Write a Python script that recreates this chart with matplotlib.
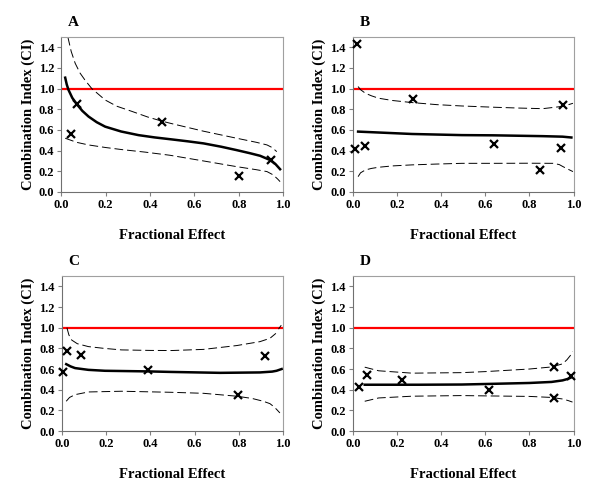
import matplotlib
matplotlib.use("Agg")
import matplotlib.pyplot as plt
from matplotlib.ticker import FormatStrFormatter

plt.rcParams["font.family"] = ["Liberation Serif", "DejaVu Serif"]
plt.rcParams["font.weight"] = "bold"

# Panel A
a_pts_x = [0.044, 0.07, 0.456, 0.80, 0.945]
a_pts_y = [0.56, 0.85, 0.675, 0.158, 0.31]
a_fit_x = [0.018, 0.025, 0.033, 0.05, 0.07, 0.095, 0.123, 0.16, 0.198, 0.27, 0.348, 0.42, 0.5, 0.57, 0.641, 0.72, 0.79, 0.85, 0.896, 0.94, 0.965, 0.986]
a_fit_y = [1.106, 1.04, 0.987, 0.91, 0.85, 0.785, 0.73, 0.675, 0.632, 0.585, 0.55, 0.528, 0.508, 0.49, 0.47, 0.438, 0.405, 0.375, 0.35, 0.31, 0.27, 0.22]
a_up_x = [0.03, 0.045, 0.063, 0.085, 0.108, 0.138, 0.198, 0.25, 0.318, 0.39, 0.454, 0.5, 0.641, 0.79, 0.88, 0.927, 0.95, 0.971]
a_up_y = [1.50, 1.36, 1.245, 1.15, 1.08, 1.00, 0.89, 0.83, 0.78, 0.725, 0.685, 0.66, 0.588, 0.52, 0.48, 0.455, 0.43, 0.39]
a_lo_x = [0.018, 0.07, 0.123, 0.2, 0.273, 0.38, 0.49, 0.641, 0.79, 0.88, 0.927, 0.955, 0.975, 0.986]
a_lo_y = [0.52, 0.48, 0.455, 0.43, 0.41, 0.385, 0.355, 0.30, 0.245, 0.215, 0.197, 0.165, 0.125, 0.10]

# Panel B
b_pts_x = [0.02, 0.012, 0.057, 0.272, 0.64, 0.85, 0.944, 0.951]
b_pts_y = [1.433, 0.416, 0.448, 0.90, 0.462, 0.21, 0.423, 0.84]
b_fit_x = [0.024, 0.268, 0.494, 0.637, 0.86, 0.95, 0.99]
b_fit_y = [0.584, 0.561, 0.55, 0.548, 0.54, 0.535, 0.527]
b_up_x = [0.024, 0.035, 0.057, 0.085, 0.117, 0.18, 0.268, 0.38, 0.494, 0.637, 0.75, 0.86, 0.937, 0.97, 0.997]
b_up_y = [1.02, 0.99, 0.955, 0.93, 0.907, 0.885, 0.865, 0.845, 0.832, 0.82, 0.812, 0.806, 0.825, 0.84, 0.858]
b_lo_x = [0.024, 0.035, 0.057, 0.085, 0.117, 0.18, 0.268, 0.38, 0.494, 0.637, 0.8, 0.907, 0.935, 0.952, 0.975, 0.997]
b_lo_y = [0.148, 0.185, 0.213, 0.228, 0.239, 0.252, 0.262, 0.27, 0.277, 0.277, 0.278, 0.277, 0.265, 0.245, 0.22, 0.197]

# Panel C
c_pts_x = [0.007, 0.023, 0.086, 0.39, 0.797, 0.92]
c_pts_y = [0.567, 0.77, 0.737, 0.587, 0.352, 0.73]
c_fit_x = [0.02, 0.04, 0.06, 0.12, 0.195, 0.39, 0.49, 0.715, 0.895, 0.95, 0.97, 0.993]
c_fit_y = [0.647, 0.625, 0.609, 0.592, 0.583, 0.577, 0.572, 0.563, 0.567, 0.575, 0.583, 0.60]
c_up_x = [0.023, 0.032, 0.045, 0.07, 0.12, 0.19, 0.27, 0.4, 0.497, 0.64, 0.79, 0.895, 0.94, 0.967]
c_up_y = [1.00, 0.93, 0.88, 0.845, 0.817, 0.80, 0.785, 0.78, 0.779, 0.79, 0.827, 0.865, 0.897, 0.945]
c_lo_x = [0.02, 0.035, 0.06, 0.12, 0.27, 0.49, 0.64, 0.79, 0.86, 0.91, 0.94, 0.955, 0.97, 0.985]
c_lo_y = [0.288, 0.325, 0.352, 0.378, 0.385, 0.375, 0.365, 0.337, 0.315, 0.288, 0.265, 0.24, 0.21, 0.175]
c_tip_x = [0.98, 0.99]
c_tip_y = [0.99, 1.02]

# Panel D
d_pts_x = [0.03, 0.065, 0.223, 0.615, 0.91, 0.91, 0.99]
d_pts_y = [0.423, 0.545, 0.49, 0.40, 0.62, 0.315, 0.53]
d_fit_x = [0.054, 0.3, 0.494, 0.6, 0.8, 0.9, 0.95, 0.975, 0.99]
d_fit_y = [0.448, 0.448, 0.45, 0.455, 0.465, 0.475, 0.49, 0.505, 0.52]
d_up_x = [0.054, 0.117, 0.268, 0.494, 0.6, 0.8, 0.9, 0.95, 0.97, 0.985, 0.995]
d_up_y = [0.618, 0.583, 0.56, 0.565, 0.575, 0.60, 0.62, 0.65, 0.69, 0.73, 0.77]
d_lo_x = [0.054, 0.117, 0.268, 0.494, 0.6, 0.8, 0.9, 0.95, 0.975, 0.995]
d_lo_y = [0.288, 0.32, 0.337, 0.343, 0.34, 0.335, 0.325, 0.31, 0.295, 0.28]

panels = [
    ("A", [0.102, 0.613, 0.370, 0.3125], a_pts_x, a_pts_y, a_fit_x, a_fit_y, a_up_x, a_up_y, a_lo_x, a_lo_y),
    ("B", [0.588, 0.613, 0.368, 0.3125], b_pts_x, b_pts_y, b_fit_x, b_fit_y, b_up_x, b_up_y, b_lo_x, b_lo_y),
    ("C", [0.103, 0.131, 0.369, 0.3125], c_pts_x, c_pts_y, c_fit_x, c_fit_y, c_up_x, c_up_y, c_lo_x, c_lo_y),
    ("D", [0.588, 0.131, 0.368, 0.3125], d_pts_x, d_pts_y, d_fit_x, d_fit_y, d_up_x, d_up_y, d_lo_x, d_lo_y),
]

fig = plt.figure(figsize=(6, 4.96), dpi=100)

for letter, rect, px, py, fx, fy, ux, uy, lx, ly in panels:
    ax = fig.add_axes(rect)
    ax.axhline(1.0, color="#ff0000", lw=1.6, zorder=1)
    ax.plot(ux, uy, color="black", lw=0.7, dashes=(9, 4))
    ax.plot(lx, ly, color="black", lw=0.7, dashes=(9, 4))
    if letter == "C":
        ax.plot(c_tip_x, c_tip_y, color="black", lw=0.7)
    ax.plot(fx, fy, color="black", lw=1.8)
    ax.plot(px, py, "x", color="black", ms=5.5, mew=1.6, clip_on=False, zorder=5)
    ax.set_xlim(0, 1)
    ax.set_ylim(0, 1.5)
    ax.set_xticks([0, 0.2, 0.4, 0.6, 0.8, 1.0])
    ax.set_yticks([0, 0.2, 0.4, 0.6, 0.8, 1.0, 1.2, 1.4])
    ax.xaxis.set_major_formatter(FormatStrFormatter("%.1f"))
    ax.yaxis.set_major_formatter(FormatStrFormatter("%.1f"))
    ax.tick_params(labelsize=9, length=3, color="#808080", width=0.8, pad=2)
    ax.spines["left"].set_color("#707070")
    ax.spines["bottom"].set_color("#707070")
    ax.spines["top"].set_color("#a0a0a0")
    ax.spines["right"].set_color("#a0a0a0")
    for s in ax.spines.values():
        s.set_linewidth(0.8)
    ax.set_xlabel("Fractional Effect", fontsize=10.5, fontweight="bold", labelpad=13)
    ax.set_ylabel("Combination Index (CI)", fontsize=10.5, fontweight="bold", labelpad=3)
    ax.text(0.03, 1.07, letter, transform=ax.transAxes, fontsize=11, fontweight="bold")

fig.savefig("out.png", dpi=100)
